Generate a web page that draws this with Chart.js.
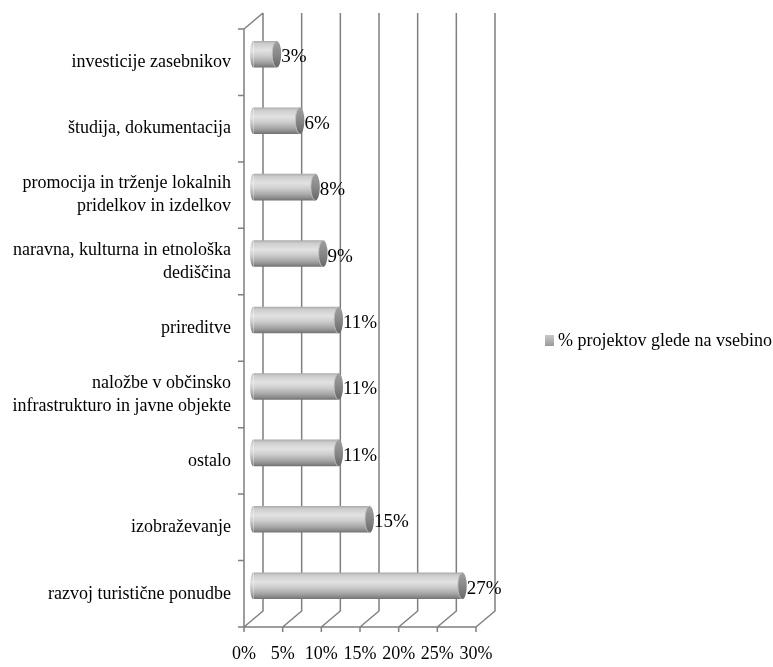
<!DOCTYPE html>
<html>
<head>
<meta charset="utf-8">
<script src="https://cdn.jsdelivr.net/npm/chart.js@4.4.1/dist/chart.umd.min.js"></script>
<style>
  html, body { margin: 0; padding: 0; background: #ffffff; }
  canvas { display: block; }
</style>
</head>
<body>
<canvas id="chart" width="773" height="667"></canvas>
<script>
// Project topics (top to bottom) and their share of all projects, in %
const categories = [
  'investicije zasebnikov',
  'študija, dokumentacija',
  ['promocija in trženje lokalnih', 'pridelkov in izdelkov'],
  ['naravna, kulturna in etnološka', 'dediščina'],
  'prireditve',
  ['naložbe v občinsko', 'infrastrukturo in javne objekte'],
  'ostalo',
  'izobraževanje',
  'razvoj turistične ponudbe'
];
const shares = [3, 6, 8, 9, 11, 11, 11, 15, 27];
const seriesName = '% projektov glede na vsebino';
const axisTicks = [0, 5, 10, 15, 20, 25, 30];

// Pseudo-3D frame: back wall sits up and to the right of the front plane
const DEPTH_X = 19;
const DEPTH_Y = -16;
const GRID_COLOR = '#7f7f7f';
const FONT = '"Liberation Serif", "Times New Roman", serif';

function cylinderGradient(ctx, yTop, yBottom) {
  const g = ctx.createLinearGradient(0, yTop, 0, yBottom);
  g.addColorStop(0.00, '#a8a8a8');
  g.addColorStop(0.10, '#cccccc');
  g.addColorStop(0.35, '#e2e2e2');
  g.addColorStop(0.55, '#cecece');
  g.addColorStop(0.78, '#a8a8a8');
  g.addColorStop(0.92, '#888888');
  g.addColorStop(1.00, '#707070');
  return g;
}

const depthFrame = {
  id: 'depthFrame',
  beforeDatasetsDraw(chart) {
    const { ctx, chartArea: a, scales: { x, y } } = chart;
    ctx.save();
    ctx.strokeStyle = GRID_COLOR;
    ctx.lineWidth = 1.5;
    ctx.beginPath();
    x.ticks.forEach(t => {
      const px = x.getPixelForValue(t.value);
      ctx.moveTo(px + DEPTH_X, a.top + DEPTH_Y);
      ctx.lineTo(px + DEPTH_X, a.bottom + DEPTH_Y);
      ctx.lineTo(px, a.bottom);
      ctx.lineTo(px, a.bottom + 5);
    });
    ctx.moveTo(a.left - 6, a.bottom);
    ctx.lineTo(a.right, a.bottom);
    ctx.moveTo(a.left + DEPTH_X, a.top + DEPTH_Y);
    ctx.lineTo(a.left, a.top);
    ctx.lineTo(a.left, a.bottom);
    for (let i = 0; i <= categories.length; i++) {
      const py = y.getPixelForValue(i - 0.5);
      ctx.moveTo(a.left - 6, py);
      ctx.lineTo(a.left, py);
    }
    ctx.stroke();
    ctx.restore();

    // bars stand half-way into the depth
    ctx.save();
    ctx.translate(DEPTH_X / 2, DEPTH_Y / 2);
  },
  afterDatasetsDraw(chart) {
    const { ctx } = chart;
    const meta = chart.getDatasetMeta(0);
    meta.data.forEach((el, i) => {
      const { x, y, base, height } = el.getProps(['x', 'y', 'base', 'height'], true);
      const h = height / 2;
      // rounded left end
      ctx.beginPath();
      ctx.ellipse(base, y, 3.5, h, 0, Math.PI / 2, Math.PI * 1.5);
      ctx.closePath();
      ctx.fillStyle = cylinderGradient(ctx, y - h, y + h);
      ctx.fill();
      // end cap
      ctx.beginPath();
      ctx.ellipse(x, y, 4.5, h, 0, 0, Math.PI * 2);
      const cap = ctx.createLinearGradient(0, y - h, 0, y + h);
      cap.addColorStop(0, '#a0a0a0');
      cap.addColorStop(0.5, '#888888');
      cap.addColorStop(1, '#686868');
      ctx.fillStyle = cap;
      ctx.fill();
      ctx.strokeStyle = '#c4c4c4';
      ctx.lineWidth = 0.8;
      ctx.beginPath();
      ctx.ellipse(x, y, 4.5, h, 0, Math.PI / 2, Math.PI * 1.5);
      ctx.stroke();
      // value label
      ctx.fillStyle = '#000000';
      ctx.font = '19px ' + FONT;
      ctx.textAlign = 'left';
      ctx.textBaseline = 'middle';
      ctx.fillText(chart.data.datasets[0].data[i] + '%', x + 4.5, y + 3);
    });
    ctx.restore();
  },
  afterDraw(chart) {
    const { ctx } = chart;
    ctx.save();
    const g = ctx.createLinearGradient(0, 335, 0, 346);
    g.addColorStop(0, '#c8c8c8');
    g.addColorStop(1, '#9a9a9a');
    ctx.fillStyle = g;
    ctx.fillRect(545, 335, 9, 11);
    ctx.fillStyle = '#000000';
    ctx.font = '18px ' + FONT;
    ctx.textAlign = 'left';
    ctx.textBaseline = 'middle';
    ctx.fillText(chart.data.datasets[0].label, 558, 341);
    ctx.restore();
  }
};

new Chart(document.getElementById('chart'), {
  type: 'bar',
  data: {
    labels: categories,
    datasets: [{
      label: seriesName,
      data: shares,
      backgroundColor: (c) => {
        const yScale = c.chart.scales.y;
        if (!yScale || c.dataIndex === undefined) return '#c8c8c8';
        const yc = yScale.getPixelForValue(c.dataIndex);
        if (!Number.isFinite(yc)) return '#c8c8c8';
        const h = 13.3;
        return cylinderGradient(c.chart.ctx, yc - h, yc + h);
      },
      borderWidth: 0,
      barPercentage: 0.4,
      categoryPercentage: 1.0
    }]
  },
  options: {
    indexAxis: 'y',
    responsive: false,
    animation: false,
    events: [],
    layout: { padding: { left: 0, top: 29, right: 297, bottom: 0 } },
    plugins: {
      legend: { display: false },
      tooltip: { enabled: false }
    },
    scales: {
      x: {
        type: 'linear',
        min: 0,
        max: 30,
        afterBuildTicks: (s) => { s.ticks = axisTicks.map(v => ({ value: v })); },
        afterFit: (s) => { s.height = 40; },
        grid: { display: false, drawTicks: false },
        border: { display: false },
        ticks: {
          color: '#000000',
          font: { family: FONT, size: 18 },
          padding: 16,
          maxRotation: 0,
          autoSkip: false,
          callback: (v) => v + '%'
        }
      },
      y: {
        afterFit: (s) => { s.width = 244; },
        grid: { display: false, drawTicks: false },
        border: { display: false },
        ticks: {
          color: '#000000',
          font: { family: FONT, size: 18, lineHeight: 1.28 },
          padding: 13,
          autoSkip: false
        }
      }
    }
  },
  plugins: [depthFrame]
});
</script>
</body>
</html>
